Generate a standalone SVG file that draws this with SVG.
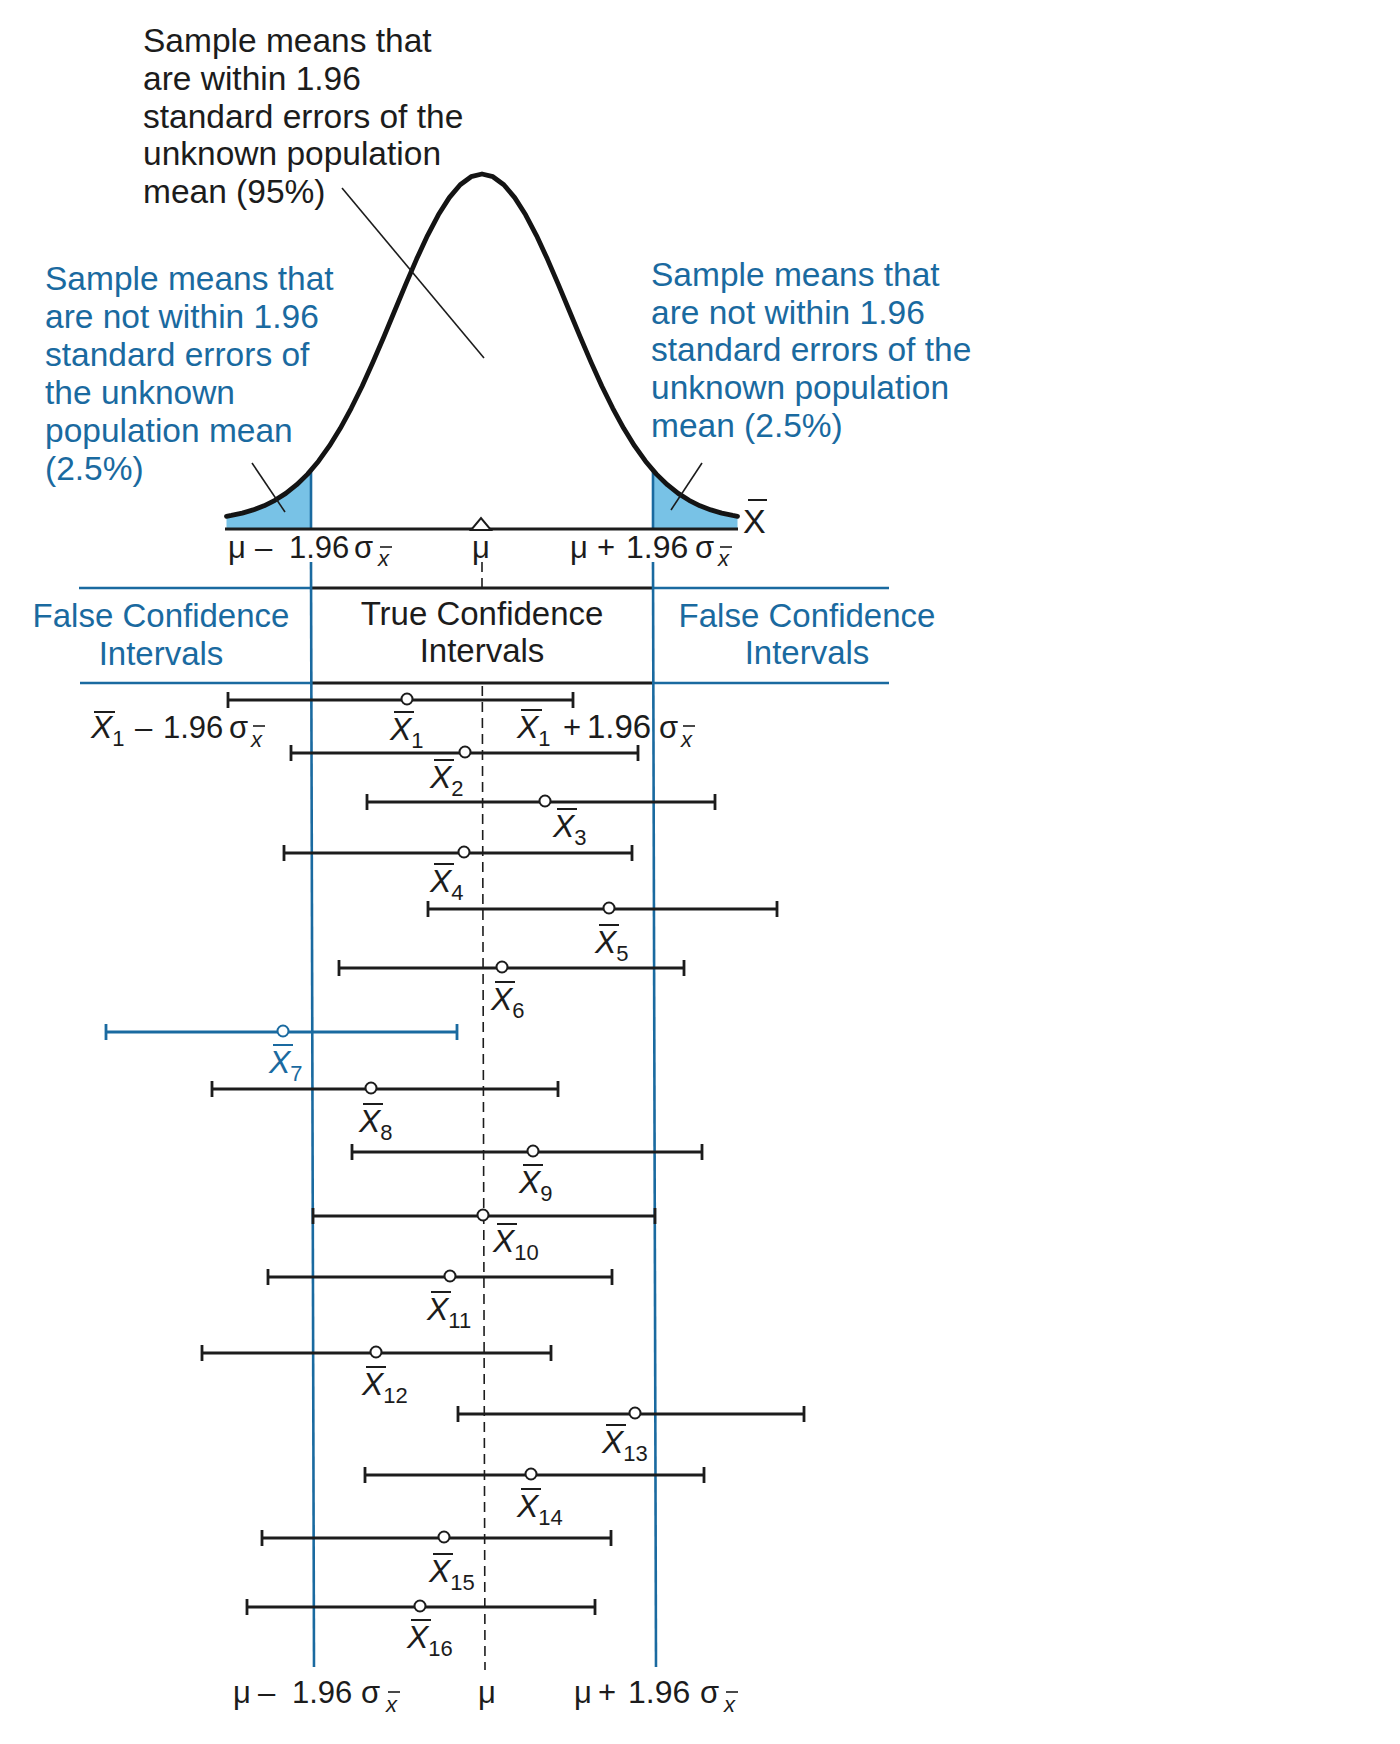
<svg xmlns="http://www.w3.org/2000/svg" width="1400" height="1744" viewBox="0 0 1400 1744">
<style>
text{font-family:"Liberation Sans",Arial,Helvetica,sans-serif;fill:#1c1c1c}
.ann{font-size:33.5px}
.hdr{font-size:33px}
.f{font-size:31px}
.xl{font-size:32px}
.it{font-style:italic}
.sub{font-size:22px}
.blue{fill:#1a6aa0}
.ci{stroke:#1c1c1c;stroke-width:2.8;fill:none}
.ci.b{stroke:#1a6aa0}
.m{fill:#fff;stroke:#1c1c1c;stroke-width:2}
.m.b{stroke:#1a6aa0}
.bar{stroke:#1c1c1c;stroke-width:2}
.bar.b{stroke:#1a6aa0}
.bl{stroke:#1a6aa0;stroke-width:2.6;fill:none}
.bk{stroke:#1c1c1c;stroke-width:2.8;fill:none}
.ptr{stroke:#1c1c1c;stroke-width:1.6;fill:none}
.dash{stroke:#1c1c1c;stroke-width:1.6;stroke-dasharray:10,6}
.shade{fill:#78c2e6}
</style>

<!-- annotations -->
<g id="note-center">
<text class="ann" x="143" y="52">Sample means that</text>
<text class="ann" x="143" y="90">are within 1.96</text>
<text class="ann" x="143" y="128">standard errors of the</text>
<text class="ann" x="143" y="165">unknown population</text>
<text class="ann" x="143" y="203">mean (95%)</text>
</g>
<g id="note-left">
<text class="ann blue" x="45" y="290">Sample means that</text>
<text class="ann blue" x="45" y="328">are not within 1.96</text>
<text class="ann blue" x="45" y="366">standard errors of</text>
<text class="ann blue" x="45" y="404">the unknown</text>
<text class="ann blue" x="45" y="442">population mean</text>
<text class="ann blue" x="45" y="480">(2.5%)</text>
</g>
<g id="note-right">
<text class="ann blue" x="651" y="286">Sample means that</text>
<text class="ann blue" x="651" y="324">are not within 1.96</text>
<text class="ann blue" x="651" y="361">standard errors of the</text>
<text class="ann blue" x="651" y="399">unknown population</text>
<text class="ann blue" x="651" y="437">mean (2.5%)</text>
</g>

<!-- distribution -->
<g id="curve">
<path class="shade" d="M226.5,516.3 L231.3,515.4 242.2,513.1 253.1,509.9 264,505.8 274.9,500.3 285.8,493.4 296.7,484.7 307.6,474.1 311,469.5 L311,529 L226.5,529 Z"/>
<path class="shade" d="M653,471 L656.4,474.1 667.3,484.7 678.2,493.4 689.1,500.3 700,505.8 710.9,509.9 721.8,513.1 732.7,515.4 737.5,516.3 L737.5,529 L653,529 Z"/>
<line class="bl" x1="311" y1="470" x2="311" y2="529"/>
<line class="bl" x1="653" y1="471" x2="653" y2="529"/>
<line class="bk" x1="225" y1="529" x2="738" y2="529"/>
<path fill="none" stroke="#141414" stroke-width="4.8" stroke-linejoin="round" stroke-linecap="round" d="M226.5,516.3 L231.3,515.4 242.2,513.1 253.1,509.9 264,505.8 274.9,500.3 285.8,493.4 296.7,484.7 307.6,474.1 318.5,461.2 329.4,445.9 340.3,428.3 351.2,408.3 362.1,386.2 373,362.1 383.9,336.7 394.8,310.5 405.7,284.4 416.6,259.1 427.5,235.6 438.4,214.8 449.3,197.6 460.2,184.7 471.1,176.7 482,174 492.9,176.7 503.8,184.7 514.7,197.6 525.6,214.8 536.5,235.6 547.4,259.1 558.3,284.4 569.2,310.5 580.1,336.7 591,362.1 601.9,386.2 612.8,408.3 623.7,428.3 634.6,445.9 645.5,461.2 656.4,474.1 667.3,484.7 678.2,493.4 689.1,500.3 700,505.8 710.9,509.9 721.8,513.1 732.7,515.4 737.5,516.3"/>
<polygon points="471,530 491,530 481,518" fill="#fff" stroke="#1c1c1c" stroke-width="2"/>
</g>

<g id="axis-labels">
<text x="743" y="533" style="font-size:34px">X</text>
<line class="bar" x1="748" y1="500" x2="767" y2="500"/>
<text class="f" x="228" y="558">μ</text>
<text class="f" x="255" y="558">–</text>
<text class="f" x="289" y="558">1.96</text>
<text class="f" x="354" y="558">σ</text>
<text class="sub it" x="378" y="566">x</text>
<line class="bar" x1="380" y1="547" x2="392" y2="547" style="stroke-width:1.6"/>
<text class="f" x="481" y="558" text-anchor="middle">μ</text>
<text class="f" x="570" y="558">μ</text>
<text class="f" x="597" y="558">+</text>
<text class="f" x="626" y="558" style="font-size:32px">1.96</text>
<text class="f" x="695" y="558">σ</text>
<text class="sub it" x="718" y="566">x</text>
<line class="bar" x1="720" y1="547" x2="732" y2="547" style="stroke-width:1.6"/>
</g>

<!-- table / reference lines -->
<g id="table">
<line class="bl" x1="79" y1="588" x2="311" y2="588"/>
<line class="bk" x1="311" y1="588" x2="653" y2="588"/>
<line class="bl" x1="653" y1="588" x2="889" y2="588"/>
<line class="bl" x1="80" y1="683" x2="311" y2="683"/>
<line class="bk" x1="311" y1="683" x2="653" y2="683"/>
<line class="bl" x1="653" y1="683" x2="889" y2="683"/>
<line class="bl" x1="311" y1="562" x2="314" y2="1667"/>
<line class="bl" x1="653" y1="562" x2="656" y2="1667"/>
<line class="dash" x1="482" y1="562" x2="482" y2="588"/>
<line class="dash" x1="482.3" y1="686" x2="485" y2="1670"/>
<text class="hdr blue" x="161" y="627" text-anchor="middle">False Confidence</text>
<text class="hdr blue" x="161" y="665" text-anchor="middle">Intervals</text>
<text class="hdr" x="482" y="625" text-anchor="middle">True Confidence</text>
<text class="hdr" x="482" y="662" text-anchor="middle">Intervals</text>
<text class="hdr blue" x="807" y="627" text-anchor="middle">False Confidence</text>
<text class="hdr blue" x="807" y="664" text-anchor="middle">Intervals</text>
</g>

<!-- connectors (pointer lines) -->
<g id="connectors">
<line class="ptr" x1="342" y1="188" x2="484" y2="358"/>
<line class="ptr" x1="252" y1="463" x2="285" y2="512"/>
<line class="ptr" x1="702" y1="463" x2="671" y2="510"/>
</g>

<!-- formula labels for interval 1 -->
<g id="ci1-limits">
<text class="xl it" x="91" y="738">X<tspan class="sub" dy="8" style="font-style:normal">1</tspan></text>
<line class="bar" x1="94" y1="712" x2="115" y2="712"/>
<text class="f" x="135" y="738">–</text>
<text class="f" x="163" y="738">1.96</text>
<text class="f" x="229" y="738">σ</text>
<text class="sub it" x="251" y="747">x</text>
<line class="bar" x1="253" y1="726" x2="265" y2="726" style="stroke-width:1.6"/>
<text class="xl it" x="517" y="738">X<tspan class="sub" dy="8" style="font-style:normal">1</tspan></text>
<line class="bar" x1="521" y1="710" x2="542" y2="710"/>
<text class="f" x="563" y="738">+</text>
<text class="f" x="587" y="738" style="font-size:33px">1.96</text>
<text class="f" x="659" y="738">σ</text>
<text class="sub it" x="681" y="747">x</text>
<line class="bar" x1="683" y1="726" x2="695" y2="726" style="stroke-width:1.6"/>
</g>

<!-- confidence intervals -->
<g id="ci1"><path class="ci" d="M228,700H573M228,692V708M573,692V708"/><circle class="m" cx="407" cy="699" r="5.5"/><text class="xl it" x="390" y="740">X<tspan class="sub" dy="8" style="font-style:normal">1</tspan></text><line class="bar" x1="394" y1="712" x2="414" y2="712"/></g>
<g id="ci2"><path class="ci" d="M291,753H638M291,745V761M638,745V761"/><circle class="m" cx="465" cy="752" r="5.5"/><text class="xl it" x="430" y="788">X<tspan class="sub" dy="8" style="font-style:normal">2</tspan></text><line class="bar" x1="434" y1="760" x2="454" y2="760"/></g>
<g id="ci3"><path class="ci" d="M367,802H715M367,794V810M715,794V810"/><circle class="m" cx="545" cy="801" r="5.5"/><text class="xl it" x="553" y="837">X<tspan class="sub" dy="8" style="font-style:normal">3</tspan></text><line class="bar" x1="557" y1="809" x2="577" y2="809"/></g>
<g id="ci4"><path class="ci" d="M284,853H632M284,845V861M632,845V861"/><circle class="m" cx="464" cy="852" r="5.5"/><text class="xl it" x="430" y="892">X<tspan class="sub" dy="8" style="font-style:normal">4</tspan></text><line class="bar" x1="434" y1="864" x2="454" y2="864"/></g>
<g id="ci5"><path class="ci" d="M428,909H777M428,901V917M777,901V917"/><circle class="m" cx="609" cy="908" r="5.5"/><text class="xl it" x="595" y="953">X<tspan class="sub" dy="8" style="font-style:normal">5</tspan></text><line class="bar" x1="599" y1="925" x2="619" y2="925"/></g>
<g id="ci6"><path class="ci" d="M339,968H684M339,960V976M684,960V976"/><circle class="m" cx="502" cy="967" r="5.5"/><text class="xl it" x="491" y="1010">X<tspan class="sub" dy="8" style="font-style:normal">6</tspan></text><line class="bar" x1="495" y1="982" x2="515" y2="982"/></g>
<g id="ci7"><path class="ci b" d="M106,1032H457M106,1024V1040M457,1024V1040"/><circle class="m b" cx="283" cy="1031" r="5.5"/><text class="xl it blue" x="269" y="1073">X<tspan class="sub blue" dy="8" style="font-style:normal">7</tspan></text><line class="bar b" x1="273" y1="1045" x2="293" y2="1045"/></g>
<g id="ci8"><path class="ci" d="M212,1089H558M212,1081V1097M558,1081V1097"/><circle class="m" cx="371" cy="1088" r="5.5"/><text class="xl it" x="359" y="1132">X<tspan class="sub" dy="8" style="font-style:normal">8</tspan></text><line class="bar" x1="363" y1="1104" x2="383" y2="1104"/></g>
<g id="ci9"><path class="ci" d="M352,1152H702M352,1144V1160M702,1144V1160"/><circle class="m" cx="533" cy="1151" r="5.5"/><text class="xl it" x="519" y="1193">X<tspan class="sub" dy="8" style="font-style:normal">9</tspan></text><line class="bar" x1="523" y1="1165" x2="543" y2="1165"/></g>
<g id="ci10"><path class="ci" d="M313,1216H655M313,1208V1224M655,1208V1224"/><circle class="m" cx="483" cy="1215" r="5.5"/><text class="xl it" x="493" y="1252">X<tspan class="sub" dy="8" style="font-style:normal">10</tspan></text><line class="bar" x1="497" y1="1224" x2="517" y2="1224"/></g>
<g id="ci11"><path class="ci" d="M268,1277H612M268,1269V1285M612,1269V1285"/><circle class="m" cx="450" cy="1276" r="5.5"/><text class="xl it" x="427" y="1320">X<tspan class="sub" dy="8" style="font-style:normal">11</tspan></text><line class="bar" x1="431" y1="1292" x2="451" y2="1292"/></g>
<g id="ci12"><path class="ci" d="M202,1353H551M202,1345V1361M551,1345V1361"/><circle class="m" cx="376" cy="1352" r="5.5"/><text class="xl it" x="362" y="1395">X<tspan class="sub" dy="8" style="font-style:normal">12</tspan></text><line class="bar" x1="366" y1="1367" x2="386" y2="1367"/></g>
<g id="ci13"><path class="ci" d="M458,1414H804M458,1406V1422M804,1406V1422"/><circle class="m" cx="635" cy="1413" r="5.5"/><text class="xl it" x="602" y="1453">X<tspan class="sub" dy="8" style="font-style:normal">13</tspan></text><line class="bar" x1="606" y1="1425" x2="626" y2="1425"/></g>
<g id="ci14"><path class="ci" d="M365,1475H704M365,1467V1483M704,1467V1483"/><circle class="m" cx="531" cy="1474" r="5.5"/><text class="xl it" x="517" y="1517">X<tspan class="sub" dy="8" style="font-style:normal">14</tspan></text><line class="bar" x1="521" y1="1489" x2="541" y2="1489"/></g>
<g id="ci15"><path class="ci" d="M262,1538H611M262,1530V1546M611,1530V1546"/><circle class="m" cx="444" cy="1537" r="5.5"/><text class="xl it" x="429" y="1582">X<tspan class="sub" dy="8" style="font-style:normal">15</tspan></text><line class="bar" x1="433" y1="1554" x2="453" y2="1554"/></g>
<g id="ci16"><path class="ci" d="M247,1607H595M247,1599V1615M595,1599V1615"/><circle class="m" cx="420" cy="1606" r="5.5"/><text class="xl it" x="407" y="1648">X<tspan class="sub" dy="8" style="font-style:normal">16</tspan></text><line class="bar" x1="411" y1="1620" x2="431" y2="1620"/></g>

<!-- bottom labels -->
<g id="bottom-labels">
<text class="f" x="233" y="1703">μ</text>
<text class="f" x="258" y="1703">–</text>
<text class="f" x="292" y="1703">1.96</text>
<text class="f" x="361" y="1703">σ</text>
<text class="sub it" x="386" y="1712">x</text>
<line class="bar" x1="388" y1="1692" x2="400" y2="1692" style="stroke-width:1.6"/>
<text class="f" x="487" y="1703" text-anchor="middle">μ</text>
<text class="f" x="574" y="1703">μ</text>
<text class="f" x="598" y="1703">+</text>
<text class="f" x="628" y="1703" style="font-size:32px">1.96</text>
<text class="f" x="700" y="1703">σ</text>
<text class="sub it" x="724" y="1712">x</text>
<line class="bar" x1="726" y1="1692" x2="738" y2="1692" style="stroke-width:1.6"/>
</g>
</svg>
